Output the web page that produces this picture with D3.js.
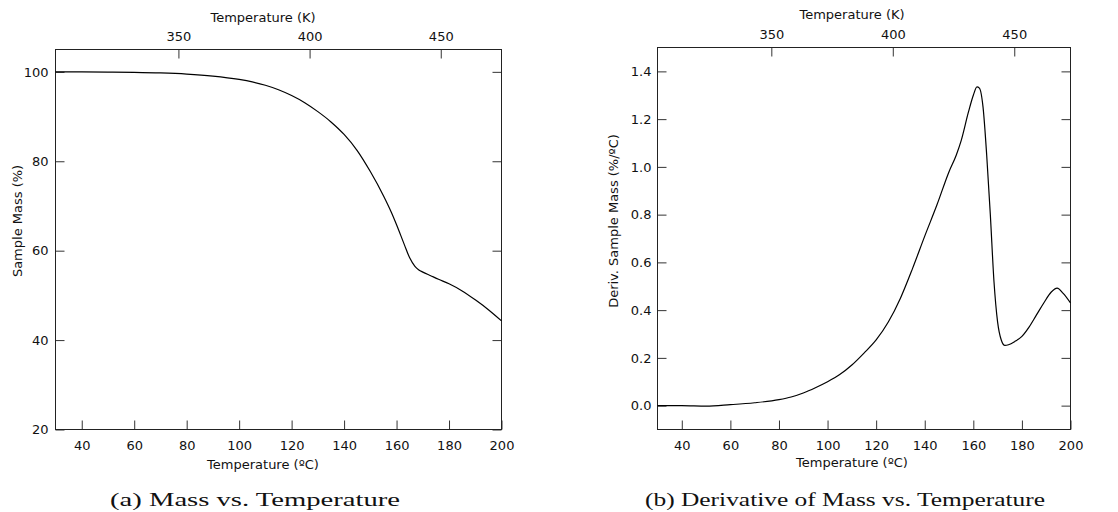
<!DOCTYPE html>
<html>
<head>
<meta charset="utf-8">
<script src="https://cdn.jsdelivr.net/npm/d3@7"></script>
<style>
  html, body { margin: 0; padding: 0; background: #fff; }
  svg { display: block; }
  text { font-family: "DejaVu Sans", sans-serif; fill: #111; }
  .caption { font-family: "Liberation Serif", "DejaVu Serif", serif; }
</style>
</head>
<body>
<svg id="fig" width="1118" height="512"></svg>
<script>
// Thermogravimetric run: sample mass and its derivative against temperature
const massTemps  = [30, 40, 50, 60, 70, 80, 90, 100, 105, 110, 115, 120, 125, 130, 135, 140, 145, 150, 155, 158, 160, 163, 165, 167, 168.5, 170, 173, 176, 180, 185, 190, 195, 200];
const massValues = [100.0, 100.0, 99.95, 99.88, 99.75, 99.5, 99.05, 98.3, 97.75, 97.0, 96.0, 94.7, 93.1, 91.1, 88.8, 86.0, 82.4, 77.7, 72.3, 68.6, 65.8, 61.3, 58.4, 56.5, 55.7, 55.2, 54.4, 53.6, 52.6, 51.0, 49.0, 46.8, 44.3];

const derivTemps  = [30, 40, 50, 60, 70, 80, 85, 90, 95, 100, 105, 110, 115, 120, 125, 130, 135, 140, 145, 150, 153, 155, 158, 160, 161.5, 162.5, 164, 165.5, 167, 168.5, 170, 171.5, 173, 174.5, 177, 180, 183, 186, 189, 192, 194.5, 197, 200];
const derivValues = [0.0, 0.0, -0.002, 0.004, 0.012, 0.025, 0.036, 0.053, 0.075, 0.10, 0.13, 0.17, 0.22, 0.275, 0.35, 0.45, 0.575, 0.71, 0.84, 0.98, 1.05, 1.11, 1.23, 1.30, 1.335, 1.33, 1.25, 1.05, 0.80, 0.52, 0.35, 0.275, 0.252, 0.255, 0.268, 0.29, 0.33, 0.38, 0.43, 0.475, 0.492, 0.47, 0.43];

// Axis ticks
const celsiusTicks = [40, 60, 80, 100, 120, 140, 160, 180, 200];
const kelvinTicks  = [350, 400, 450];
const massTicks    = [20, 40, 60, 80, 100];
const derivTicks   = [0.0, 0.2, 0.4, 0.6, 0.8, 1.0, 1.2, 1.4];

const svg = d3.select("#fig");
const TICK = 9;

function drawPanel(p) {
  const g = svg.append("g");
  const x = d3.scaleLinear().domain([30, 200]).range([p.left, p.right]);
  const xK = d3.scaleLinear().domain([30 + 273.15, 200 + 273.15]).range([p.left, p.right]);
  const y = d3.scaleLinear().domain(p.yDomain).range([p.bottom, p.top]);

  // Bottom axis (°C), ticks pointing into the plot
  const bottomAxis = d3.axisBottom(x).tickValues(celsiusTicks)
    .tickSizeInner(-TICK).tickSizeOuter(0).tickPadding(11).tickFormat(d3.format("d"));
  g.append("g").attr("transform", `translate(0,${p.bottom})`).call(bottomAxis)
    .call(a => a.select(".domain").remove());

  // Top axis (K)
  const topAxis = d3.axisTop(xK).tickValues(kelvinTicks)
    .tickSizeInner(-TICK).tickSizeOuter(0).tickPadding(9).tickFormat(d3.format("d"));
  g.append("g").attr("transform", `translate(0,${p.top})`).call(topAxis)
    .call(a => a.select(".domain").remove());

  // Left axis
  const leftAxis = d3.axisLeft(y).tickValues(p.yTicks)
    .tickSizeInner(-TICK).tickSizeOuter(0).tickPadding(p.leftPad).tickFormat(p.yFormat);
  g.append("g").attr("transform", `translate(${p.left},0)`).call(leftAxis)
    .call(a => a.select(".domain").remove());

  // Right axis: ticks only
  const rightAxis = d3.axisRight(y).tickValues(p.yTicks)
    .tickSizeInner(-TICK).tickSizeOuter(0).tickFormat("");
  g.append("g").attr("transform", `translate(${p.right},0)`).call(rightAxis)
    .call(a => a.select(".domain").remove());

  g.selectAll(".tick line").attr("stroke", "#333").attr("stroke-width", 1);
  g.selectAll(".tick text").attr("font-family", "DejaVu Sans, sans-serif")
    .attr("font-size", 13).attr("fill", "#111");

  // Frame
  g.append("rect")
    .attr("x", p.left).attr("y", p.top)
    .attr("width", p.right - p.left).attr("height", p.bottom - p.top)
    .attr("fill", "none").attr("stroke", "#222").attr("stroke-width", 1);

  // Curve
  const pts = p.xs.map((t, i) => [t, p.ys[i]]);
  const line = d3.line().x(d => x(d[0])).y(d => y(d[1])).curve(d3.curveMonotoneX);
  g.append("path").datum(pts)
    .attr("d", line).attr("fill", "none")
    .attr("stroke", "#000").attr("stroke-width", 1.2);

  // Axis titles
  g.append("text").attr("x", p.titleX).attr("y", p.topTitleY)
    .attr("text-anchor", "middle").attr("font-size", 13).text("Temperature (K)");
  g.append("text").attr("x", p.titleX).attr("y", p.bottomTitleY)
    .attr("text-anchor", "middle").attr("font-size", 13).text("Temperature (ºC)");
  g.append("text")
    .attr("transform", `translate(${p.yTitleX},221) rotate(-90)`)
    .attr("text-anchor", "middle").attr("dominant-baseline", "central")
    .attr("font-size", 13).text(p.yTitle);

  // Caption
  g.append("text").attr("class", "caption")
    .attr("x", p.capX).attr("y", p.capY)
    .attr("text-anchor", "middle").attr("font-size", 19)
    .attr("textLength", p.capLen).attr("lengthAdjust", "spacingAndGlyphs")
    .text(p.caption);
}

drawPanel({
  left: 55.5, right: 501.5, top: 49.5, bottom: 429.5,
  yDomain: [20, 105], yTicks: massTicks, yFormat: d3.format("d"), leftPad: 7,
  xs: massTemps, ys: massValues,
  titleX: 263, topTitleY: 22, bottomTitleY: 469,
  yTitleX: 17, yTitle: "Sample Mass (%)",
  caption: "(a) Mass vs. Temperature", capX: 255, capY: 506, capLen: 290
});

drawPanel({
  left: 657.5, right: 1070.5, top: 47.5, bottom: 429.5,
  yDomain: [-0.1, 1.5], yTicks: derivTicks, yFormat: d3.format(".1f"), leftPad: 6,
  xs: derivTemps, ys: derivValues,
  titleX: 852, topTitleY: 19, bottomTitleY: 467,
  yTitleX: 613, yTitle: "Deriv. Sample Mass (%/ºC)",
  caption: "(b) Derivative of Mass vs. Temperature", capX: 845, capY: 506, capLen: 400
});
</script>
</body>
</html>
